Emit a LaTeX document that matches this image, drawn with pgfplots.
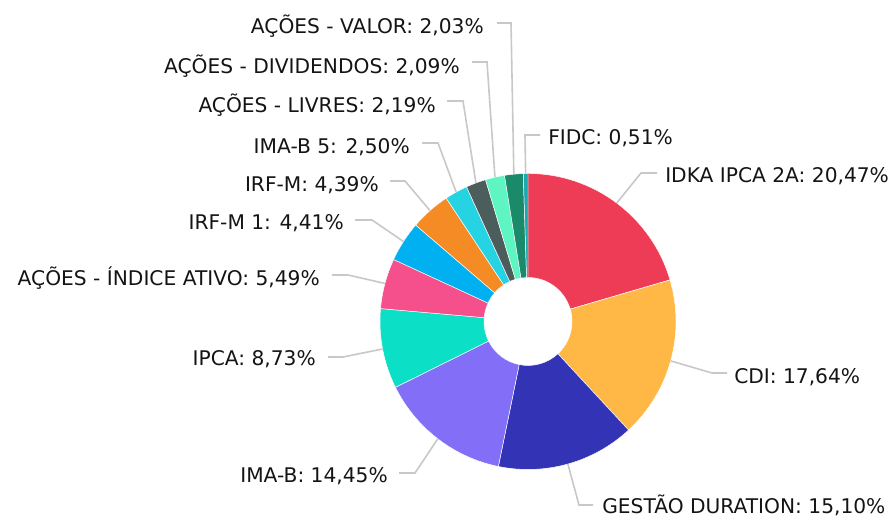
\documentclass[border=0pt]{standalone}
\usepackage{pgfplots}
\pgfplotsset{compat=1.18}
\usepackage{pgfplotstable}
\usepackage{fontspec}
\setmainfont{DejaVu Sans}
\definecolor{cIDKA}{HTML}{EE3C56}
\definecolor{cCDI}{HTML}{FFB845}
\definecolor{cGES}{HTML}{3333B5}
\definecolor{cIMAB}{HTML}{836FF7}
\definecolor{cIPCA}{HTML}{0BE0C6}
\definecolor{cIND}{HTML}{F5508B}
\definecolor{cIRFMa}{HTML}{00B0F0}
\definecolor{cIRFM}{HTML}{F58B24}
\definecolor{cIMABv}{HTML}{26D3E3}
\definecolor{cLIV}{HTML}{4C5E5C}
\definecolor{cDIV}{HTML}{5EF5C3}
\definecolor{cVAL}{HTML}{1B8A6B}
\definecolor{cFIDC}{HTML}{1CA8B0}
\definecolor{leader}{HTML}{C8C8C8}
\definecolor{txt}{HTML}{141414}

\pgfplotstableread{
value color
20.47 cIDKA
17.64 cCDI
15.10 cGES
14.45 cIMAB
8.73 cIPCA
5.49 cIND
4.41 cIRFMa
4.39 cIRFM
2.50 cIMABv
2.19 cLIV
2.09 cDIV
2.03 cVAL
0.51 cFIDC
}\slices

\begin{document}
\begin{tikzpicture}
\begin{axis}[hide axis, scale only axis, width=667.5pt, height=390pt,
  xmin=0, xmax=890, ymin=-520, ymax=0, clip=false]
\path (axis cs:0,-520) rectangle (axis cs:890,0);
\pgfplotsextra{%
  \def\cum{0}%
  \pgfplotsforeachungrouped \i in {0,...,12}{%
    \pgfplotstablegetelem{\i}{color}\of\slices \let\col\pgfplotsretval
    \pgfplotstablegetelem{\i}{value}\of\slices \let\val\pgfplotsretval
    \pgfmathsetmacro\aone{90-3.6*\cum}%
    \pgfmathsetmacro\atwo{90-3.6*(\cum+\val)}%
    \pgfmathsetmacro\amid{(\aone+\atwo)/2}%
    \pgfmathsetmacro\xa{528+148*cos(\aone)}%
    \pgfmathsetmacro\ya{-321.5+148*sin(\aone)}%
    \pgfmathsetmacro\xb{528+44*cos(\atwo)}%
    \pgfmathsetmacro\yb{-321.5+44*sin(\atwo)}%
    \pgfmathsetmacro\xm{528+148*cos(\amid)}%
    \pgfmathsetmacro\ym{-321.5+148*sin(\amid)}%
    \path[fill=\col, draw=white, line width=0.35pt]
      (axis cs:\xa,\ya) arc[start angle=\aone, end angle=\atwo, radius=111pt]
      -- (axis cs:\xb,\yb) arc[start angle=\atwo, end angle=\aone, radius=33pt] -- cycle;
    \coordinate (m\i) at (axis cs:\xm,\ym);
    \pgfmathsetmacro\cum{\cum+\val}%
  }%
  \begin{scope}[leader, line width=1.2pt]
  \draw (m0) -- (axis cs:641,-173) -- (axis cs:657,-173);
  \draw (m1) -- (axis cs:712,-373) -- (axis cs:727,-373);
  \draw (m2) -- (axis cs:579,-505) -- (axis cs:593,-505);
  \draw (m3) -- (axis cs:415,-473) -- (axis cs:399,-473);
  \draw (m4) -- (axis cs:343,-357) -- (axis cs:328,-357);
  \draw (m5) -- (axis cs:348,-275) -- (axis cs:332,-275);
  \draw (m6) -- (axis cs:372,-220) -- (axis cs:355,-220);
  \draw (m7) -- (axis cs:405,-181) -- (axis cs:390,-181);
  \draw (m8) -- (axis cs:438,-143) -- (axis cs:422,-143);
  \draw (m9) -- (axis cs:463,-101) -- (axis cs:447,-101);
  \draw (m10) -- (axis cs:487,-62) -- (axis cs:472,-62);
  \draw (m11) -- (axis cs:511,-23) -- (axis cs:497,-23);
  \draw (m12) -- (axis cs:525,-135) -- (axis cs:540,-135);
  \end{scope}
  \begin{scope}[every node/.style={inner sep=0pt, text=txt, font=\fontsize{15.15pt}{17pt}\selectfont}]
  \node[anchor=base west] at (axis cs:665,-183) {IDKA IPCA 2A: 20,47\%};
  \node[anchor=base west] at (axis cs:734,-384) {CDI: 17,64\%};
  \node[anchor=base west] at (axis cs:602,-514) {GESTÃO DURATION: 15,10\%};
  \node[anchor=base east] at (axis cs:388,-483) {IMA-B: 14,45\%};
  \node[anchor=base east] at (axis cs:316,-366) {IPCA: 8,73\%};
  \node[anchor=base east] at (axis cs:320,-286) {AÇÕES - ÍNDICE ATIVO: 5,49\%};
  \node[anchor=base east] at (axis cs:344,-230) {IRF-M 1: 4,41\%};
  \node[anchor=base east] at (axis cs:379,-192) {IRF-M: 4,39\%};
  \node[anchor=base east] at (axis cs:410,-154) {IMA-B 5: 2,50\%};
  \node[anchor=base east] at (axis cs:436,-113) {AÇÕES - LIVRES: 2,19\%};
  \node[anchor=base east] at (axis cs:460,-74) {AÇÕES - DIVIDENDOS: 2,09\%};
  \node[anchor=base east] at (axis cs:484,-34) {AÇÕES - VALOR: 2,03\%};
  \node[anchor=base west] at (axis cs:548,-145) {FIDC: 0,51\%};
  \end{scope}
}
\end{axis}
\end{tikzpicture}
\end{document}
